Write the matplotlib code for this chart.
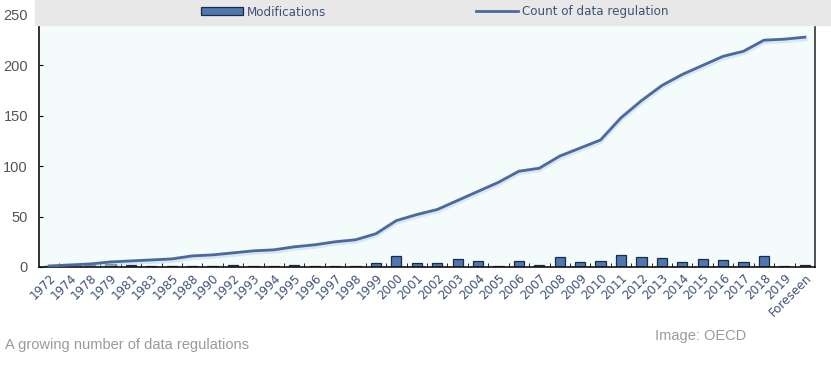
import matplotlib
matplotlib.use('Agg')
import matplotlib.pyplot as plt
from matplotlib.patches import Rectangle
import numpy as np

plt.rcParams['font.family'] = ['Liberation Sans', 'DejaVu Sans']

# data
years = ['1972', '1974', '1978', '1979', '1981', '1983', '1985', '1988', '1990',
         '1992', '1993', '1994', '1995', '1996', '1997', '1998', '1999', '2000',
         '2001', '2002', '2003', '2004', '2005', '2006', '2007', '2008', '2009',
         '2010', '2011', '2012', '2013', '2014', '2015', '2016', '2017', '2018',
         '2019', 'Foreseen']
count = [1, 2, 3, 5, 6, 7, 8, 11, 12, 14, 16, 17, 20, 22, 25, 27, 33, 46,
         52, 57, 66, 75, 84, 95, 98, 110, 118, 126, 148, 165, 180, 191, 200,
         209, 214, 225, 226, 228]
modifications = [1, 2, 2, 3, 2, 1, 1, 1, 1, 2, 1, 1, 2, 1, 1, 1, 4, 11,
                 4, 4, 8, 6, 1, 6, 2, 10, 5, 6, 12, 10, 9, 5, 8, 7, 5, 11,
                 1, 2]

x = np.arange(len(years))

fig = plt.figure(figsize=(8.31, 3.69), dpi=100)
ax = fig.add_axes([39/831, 1 - 267/369, (815 - 39)/831, (267 - 15)/369])
ax.set_facecolor('#f3fcfb')

bars = ax.bar(x, modifications, width=0.5, color='#4d77b0', edgecolor='#1d2b45',
              linewidth=0.9, label='Modifications', zorder=2)
# soft glow under the line
ax.plot(x, np.array(count) - 1.2, color='#c9d9ee', lw=4, alpha=0.6, zorder=2)
line, = ax.plot(x, count, color='#4a6a9e', lw=2, label='Count of data regulation',
                zorder=3)

ax.set_xlim(-0.5, len(years) - 0.5)
ax.set_ylim(0, 250)
ax.set_yticks([0, 50, 100, 150, 200, 250])
ax.tick_params(axis='y', direction='in', length=3, labelsize=10.5,
               labelcolor='#555555', pad=8)
ax.set_xticks(x)
ax.set_xticklabels(years, rotation=45, ha='right', rotation_mode='anchor',
                   family='DejaVu Sans', fontstretch='condensed')
ax.tick_params(axis='x', length=0, labelsize=9.5, labelcolor='#3f5277', pad=3)
ax.set_xticks(x[:-1] + 0.5, minor=True)
ax.tick_params(axis='x', which='minor', direction='in', length=3, color='black')

ax.spines['top'].set_visible(False)
for s in ['left', 'right', 'bottom']:
    ax.spines[s].set_color('#111111')
    ax.spines[s].set_linewidth(1.2)
ax.spines['right'].set_color('#333333')

# grey legend band across the top
fig.patches.append(Rectangle((35/831, 1 - 25/369), 1, 25/369,
                             transform=fig.transFigure, color='#e8e8e8', zorder=5))
leg = fig.legend([bars, line], ['Modifications', 'Count of data regulation'],
                 loc='center', bbox_to_anchor=(0.523, 1 - 12/369), ncol=2,
                 frameon=False, handlelength=3.2, handleheight=0.6,
                 columnspacing=11.3, handletextpad=0.3,
                 prop={'family': 'DejaVu Sans', 'stretch': 'condensed', 'size': 9.5})
leg.set_zorder(6)
for t in leg.get_texts():
    t.set_color('#3f5277')

fig.text(5/831, 1 - 345/369, 'A growing number of data regulations', fontsize=10.5,
         color='#9a9a9a', va='center')
fig.text(655/831, 1 - 336/369, 'Image: OECD', fontsize=10.5, color='#9a9a9a',
         va='center')

plt.savefig('out.png', dpi=100)
